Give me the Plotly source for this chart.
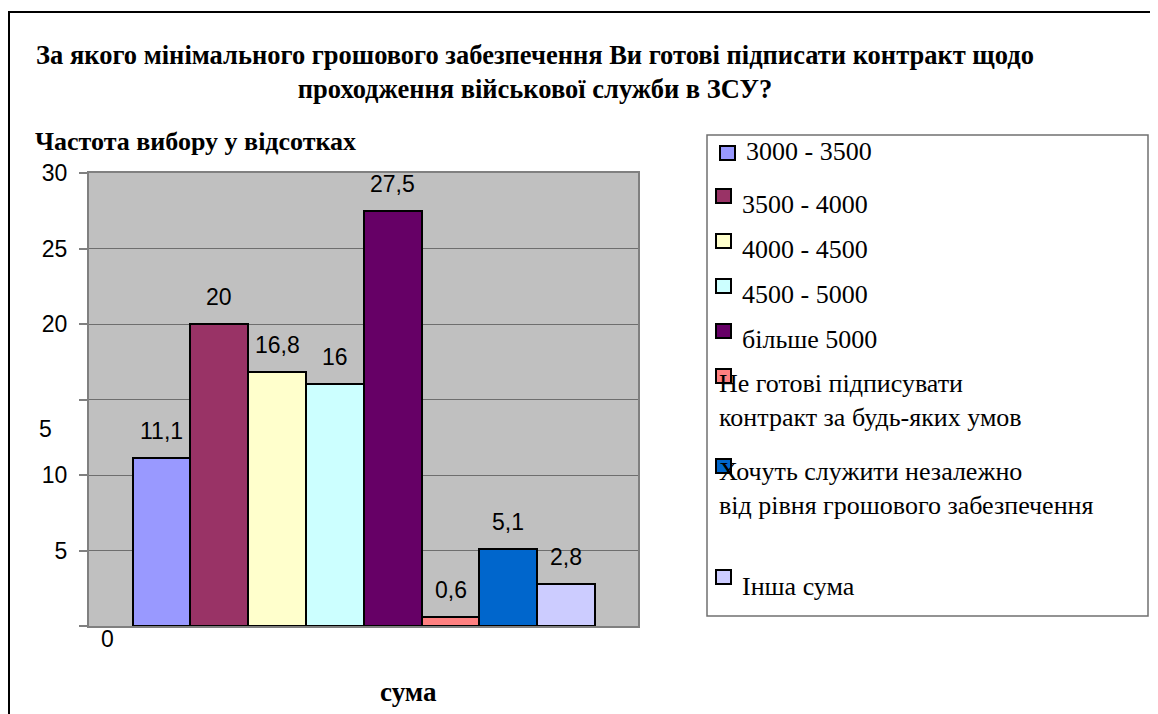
import plotly.graph_objects as go

# ---- data ----
categories = ["3000 - 3500", "3500 - 4000", "4000 - 4500", "4500 - 5000", "більше 5000",
              "Не готові підписувати<br>контракт за будь-яких умов",
              "Хочуть служити незалежно<br>від рівня грошового забезпечення",
              "Інша сума"]
values = [11.1, 20, 16.8, 16, 27.5, 0.6, 5.1, 2.8]
colors = ["#9999FF", "#993366", "#FFFFCC", "#CCFFFF", "#660066", "#FF8080", "#0066CC", "#CCCCFF"]
y_tickvals = [0, 5, 10, 15, 20, 25, 30]
y_ticktext = ["", "5", "10", "", "20", "25", "30"]

title_text = ("За якого мінімального грошового забезпечення Ви готові підписати контракт щодо"
              "<br>проходження військової служби в ЗСУ?")
ytitle_text = "Частота вибору у відсотках"
xtitle_text = "сума"

# ---- geometry (page pixels; the page body has an 8px margin) ----
OFF = 8
PW, PH = 1158, 714
FW, FH = PW - OFF, PH - OFF
L, R, T, B = 89, 638, 173, 626
W, H = R - L, B - T

def px(x):
    return (x - L) / W

def py(y):
    return (B - y) / H

SERIF = "Liberation Serif, Times New Roman, serif"
SANS = "Liberation Sans, Arial, sans-serif"

fig = go.Figure()
for i, (name, v, c) in enumerate(zip(categories, values, colors)):
    fig.add_trace(go.Bar(
        x=[i], y=[v], name=name, width=1,
        marker=dict(color=c, line=dict(color="black", width=2)),
        showlegend=False, hoverinfo="y+name"))

annotations = []
# value labels
for i, v in enumerate(values):
    annotations.append(dict(x=i, y=v, xref="x", yref="y", text=f"{v:g}".replace(".", ","),
                            showarrow=False, yshift=27, font=dict(family=SANS, size=23, color="black")))

# stray axis labels as in reference
annotations.append(dict(x=px(45), y=13.05, xref="paper", yref="y", text="5", showarrow=False,
                        xanchor="center", yanchor="middle", font=dict(family=SANS, size=23, color="black")))
annotations.append(dict(x=px(107), y=py(639), xref="paper", yref="paper", text="0", showarrow=False,
                        xanchor="center", yanchor="middle", font=dict(family=SANS, size=23, color="black")))

# axis titles
annotations.append(dict(x=px(33), y=py(141), xref="paper", yref="paper", text="<b>" + ytitle_text + "</b>",
                        showarrow=False, xanchor="left", yanchor="middle",
                        font=dict(family=SERIF, size=26, color="black")))
annotations.append(dict(x=px(408), y=py(692), xref="paper", yref="paper", text="<b>" + xtitle_text + "</b>",
                        showarrow=False, xanchor="center", yanchor="middle",
                        font=dict(family=SERIF, size=27, color="black")))

shapes = []
# outer frame
shapes.append(dict(type="rect", xref="paper", yref="paper", x0=px(9), x1=px(1170), y0=py(12), y1=py(730),
                   line=dict(color="black", width=2), fillcolor="rgba(0,0,0,0)", layer="below"))
# legend box
shapes.append(dict(type="rect", xref="paper", yref="paper", x0=px(707), x1=px(1148), y0=py(135), y1=py(616),
                   line=dict(color="#707070", width=1.5), fillcolor="white"))

# manual legend (positions in page pixels)
sym_x = [720, 716, 716, 716, 716, 716, 716, 716]
sym_y = [153, 196, 241, 286, 331, 376, 466, 577]
txt_x = [744, 740, 740, 740, 740, 717, 717, 740]
txt_y = [151, 204, 249, 294, 339, 400, 488, 586]
for name, c, sx, sy, tx, ty in zip(categories, colors, sym_x, sym_y, txt_x, txt_y):
    shapes.append(dict(type="rect", xref="paper", yref="paper", x0=px(sx), x1=px(sx + 15),
                       y0=py(sy - 7), y1=py(sy + 7), fillcolor=c, line=dict(color="black", width=2)))
    annotations.append(dict(x=px(tx), y=py(ty), xref="paper", yref="paper", text=name, showarrow=False,
                            xanchor="left", yanchor="middle", align="left",
                            font=dict(family=SERIF, size=26, color="black")))

fig.update_layout(
    width=FW, height=FH,
    margin=dict(l=L - OFF, r=PW - R, t=T - OFF, b=PH - B, pad=0),
    paper_bgcolor="white", plot_bgcolor="#C0C0C0",
    barmode="overlay", bargap=0,
    showlegend=False,
    title=dict(text="<b>" + title_text + "</b>", x=(535 - OFF) / FW, xanchor="center", xref="container",
               y=1 - (64 - OFF) / FH, yanchor="middle", yref="container",
               font=dict(family=SERIF, size=26.5, color="black")),
    xaxis=dict(range=[-1.256, 8.244], showticklabels=False, ticks="", showgrid=False, zeroline=False,
               showline=True, linecolor="#808080", linewidth=2, mirror=True, fixedrange=True),
    yaxis=dict(range=[0, 30], tickvals=y_tickvals, ticktext=y_ticktext, ticks="outside", ticklen=8,
               tickcolor="#808080", tickwidth=1.5, showgrid=True, gridcolor="#6E6E6E", gridwidth=1.2,
               zeroline=False, showline=True, linecolor="#808080", linewidth=2, mirror=True,
               tickfont=dict(family=SANS, size=23, color="black"), ticklabelstandoff=7, fixedrange=True),
    annotations=annotations, shapes=shapes,
)

fig.write_html("out.html")
